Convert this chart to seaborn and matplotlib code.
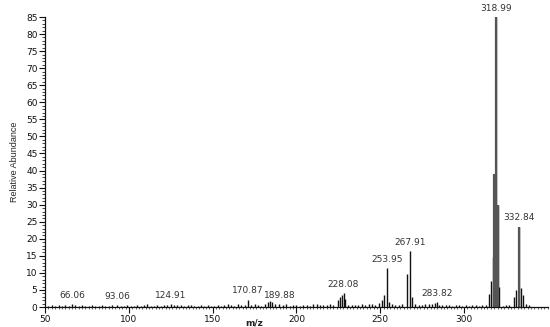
import matplotlib
matplotlib.use("Agg")
import matplotlib.pyplot as plt
import seaborn as sns
import numpy as np
from matplotlib.ticker import MultipleLocator

# Labeled peaks
label_mz = [66.06, 93.06, 124.91, 170.87, 189.88, 228.08, 253.95, 267.91, 283.82, 318.99, 332.84]
label_int = [0.8, 0.6, 1.0, 2.2, 1.0, 4.2, 11.3, 16.4, 1.5, 85.0, 23.6]

# Isotope / cluster peaks
cluster_mz = [225.0, 226.0, 227.0, 229.0, 249.5, 251.0, 252.0, 255.0, 266.0, 269.0,
              281.0, 282.5, 183.0, 184.0, 185.5, 315.0, 316.0, 317.0, 318.0, 320.0, 321.0,
              330.0, 331.0, 334.0, 335.0]
cluster_int = [2.0, 3.0, 3.6, 2.5, 1.2, 2.2, 3.5, 1.5, 9.7, 3.0,
               0.8, 1.2, 1.6, 1.8, 1.4, 3.8, 7.7, 14.6, 39.0, 30.0, 6.0,
               3.0, 5.0, 5.6, 3.5]

# Baseline noise peaks
noise_mz = [52, 54, 56, 58, 60, 62, 64, 68, 70, 72, 74, 76, 78, 80, 82, 84, 86, 88, 90, 95,
            97, 99, 101, 103, 105, 107, 109, 111, 113, 115, 117, 119, 121, 123, 127, 129, 131,
            133, 135, 137, 139, 141, 143, 145, 147, 149, 151, 153, 155, 157, 159, 161, 163,
            165, 167, 169, 173, 175, 177, 179, 181, 187, 192, 194, 196, 198, 200, 202, 204,
            206, 208, 210, 212, 214, 216, 218, 220, 222, 231, 233, 235, 237, 239, 241, 243,
            245, 247, 257, 259, 261, 263, 271, 273, 275, 277, 279, 285, 287, 289, 291, 293,
            295, 297, 299, 301, 303, 305, 307, 309, 311, 313, 323, 325, 327, 337, 339]
noise_int = [0.3, 0.5, 0.4, 0.6, 0.3, 0.5, 0.4, 0.6, 0.3, 0.5, 0.4, 0.3, 0.6, 0.4, 0.3, 0.5,
             0.4, 0.3, 0.6, 0.4, 0.3, 0.5, 0.4, 0.3, 0.5, 0.4, 0.6, 0.8, 0.4, 0.3, 0.5, 0.4,
             0.6, 0.5, 0.7, 0.6, 0.5, 0.4, 0.6, 0.5, 0.3, 0.4, 0.6, 0.3, 0.5, 0.4, 0.3, 0.5,
             0.4, 0.6, 0.8, 0.5, 0.4, 0.9, 0.6, 0.7, 0.5, 0.8, 0.6, 0.4, 1.0, 0.8, 0.5, 0.9,
             0.4, 0.6, 0.5, 0.3, 0.7, 0.5, 0.4, 0.9, 1.0, 0.6, 0.5, 0.7, 0.8, 0.6, 0.6, 0.5,
             0.7, 0.6, 0.8, 0.6, 0.9, 1.0, 0.7, 0.9, 0.7, 0.6, 0.8, 0.8, 0.6, 0.7, 0.9, 1.0,
             0.6, 0.5, 0.7, 0.5, 0.4, 0.5, 0.6, 0.4, 0.5, 0.3, 0.6, 0.5, 0.4, 0.6, 0.5, 0.4,
             0.6, 0.5, 0.8, 0.5]

x_ticks = [50, 100, 150, 200, 250, 300]
y_ticks = list(range(0, 90, 5))

sns.set_theme(style="ticks")
plt.rcParams['font.family'] = ['DejaVu Sans']

fig = plt.figure(figsize=(5.5, 3.27), dpi=100)
ax = fig.add_axes([0.082, 0.061, 0.914, 0.887])

all_mz = np.array(noise_mz + cluster_mz + label_mz, dtype=float)
all_int = np.array(noise_int + cluster_int + label_int, dtype=float)
ax.vlines(all_mz, 0, all_int, color="#111111", linewidth=1.0)
big = all_int > 20
ax.vlines(all_mz[big], 0, all_int[big], color="#555555", linewidth=1.6)

for m, v in zip(label_mz, label_int):
    ax.text(m, v + 1.2, f"{m:.2f}", ha="center", va="bottom", fontsize=6.5, color="#333333")

ax.set_xlim(50, 350)
ax.set_ylim(0, 85)
ax.set_xticks(x_ticks)
ax.set_yticks(y_ticks)
ax.yaxis.set_minor_locator(MultipleLocator(1))
ax.xaxis.set_minor_locator(MultipleLocator(2))
ax.tick_params(axis="both", which="major", labelsize=6.5, length=4, width=0.8, colors="#111111",
               pad=1.5)
ax.tick_params(axis="y", which="minor", length=2.5, width=0.6)
ax.tick_params(axis="x", which="minor", length=1.5, width=0.5)
for s in ["top", "right"]:
    ax.spines[s].set_visible(False)
for s in ["left", "bottom"]:
    ax.spines[s].set_linewidth(0.9)
    ax.spines[s].set_color("#111111")

ax.set_ylabel("Relative Abundance", fontsize=6.5,
              family=['Liberation Sans Narrow', 'Liberation Sans', 'DejaVu Sans'], labelpad=5)
ax.set_xlabel("")
ax.text(175, -3.3, "m/z", ha="center", va="top", fontsize=6.5, fontweight="bold", color="#222222")

fig.savefig("out.png", dpi=100)
